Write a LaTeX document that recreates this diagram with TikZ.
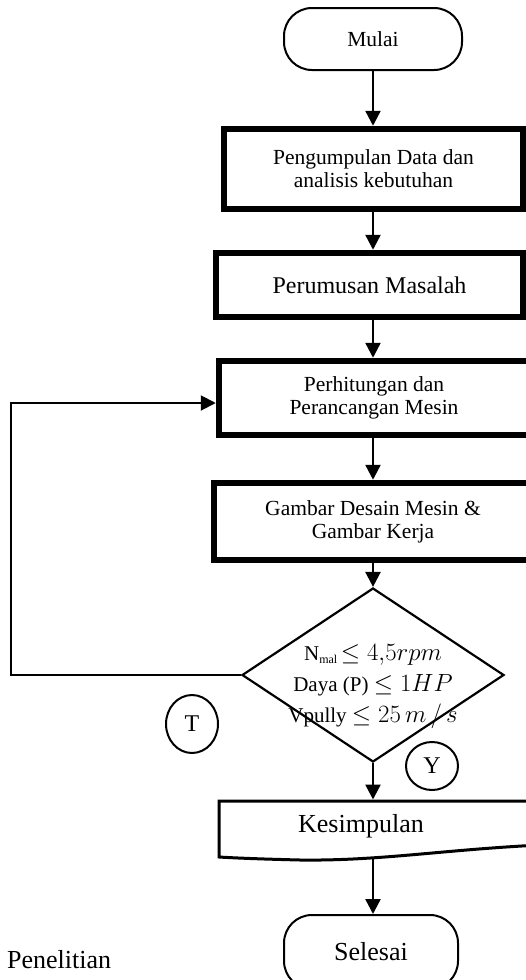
\documentclass[tikz,border=0pt]{standalone}
\usepackage{fontspec}
\setmainfont{Liberation Serif}
\usetikzlibrary{arrows.meta,shapes.geometric}
\newcommand\msz{\fontsize{27}{31}\selectfont}
\begin{document}
\begin{tikzpicture}[x=1pt,y=-1pt,
  conn/.style={line width=2.4pt,-{Triangle[length=15pt,width=15pt]}},
  thickbox/.style={draw,line width=6.5pt,inner sep=0pt,align=center},
  term/.style={draw,line width=2pt,rounded corners=28pt,inner sep=0pt,align=center},
  txt/.style={font=\fontsize{21.5}{23}\selectfont,align=center},
  bigtxt/.style={font=\fontsize{26}{28}\selectfont},
  ring/.style={draw,ellipse,line width=2pt,inner sep=0pt,font=\fontsize{24}{26}\selectfont},
]
\useasboundingbox (0,0) rectangle (526,980);
\clip (0,0) rectangle (526,980);
\coordinate (ax) at (373,0);

\node[term,txt,minimum width=178pt,minimum height=62pt] (mulai) at (373,39) {Mulai};
\node[thickbox,txt,minimum width=299pt,minimum height=80pt] (b1) at (373.5,169) {Pengumpulan Data dan\\analisis kebutuhan};
\node[thickbox,font=\fontsize{24}{26}\selectfont,minimum width=307pt,minimum height=64pt] (b2) at (369.5,285) {Perumusan Masalah};
\node[thickbox,txt,minimum width=310pt,minimum height=74pt] (b3) at (374,398) {Perhitungan dan\\Perancangan Mesin};
\node[thickbox,txt,minimum width=318pt,minimum height=77pt] (b4) at (373,521.5) {Gambar Desain Mesin \&\\Gambar Kerja};

\node[draw,diamond,line width=2.2pt,minimum width=262pt,minimum height=174pt,inner sep=0pt] (dia) at (373,675) {};
\node[align=center,inner sep=0pt,font=\fontsize{21}{31}\selectfont] (cond) at (373,687)
  {N{\fontsize{12}{12}\selectfont\raisebox{-3pt}{mal}}\,{\msz$\leq 4{,}5rpm$}\\
   Daya (P) {\msz$\leq 1HP$}\\
   Vpully {\msz$\leq 25\,m\,/\,s$}};

\node[ring,minimum width=52pt,minimum height=58pt] (T) at (192,724) {T};
\node[ring,minimum width=52pt,minimum height=48pt] (Y) at (432,766) {Y};

% Kesimpulan (document shape)
\draw[line width=3pt] (219,857) -- (219,801) -- (540,801) -- (540,845)
  .. controls (440,850) and (380,861) .. (300,860)
  .. controls (260,859) and (235,858) .. (219,857) -- cycle;
\node[bigtxt] (kes) at (361,826) {Kesimpulan};
\coordinate (kestop) at (373,799.5);
\coordinate (kesbot) at (373,859);

\node[term,bigtxt,minimum width=174pt,minimum height=74pt] (sel) at (371,952) {Selesai};

\node[anchor=base west,inner sep=0pt,font=\fontsize{26}{28}\selectfont] (pen) at (7,968) {Penelitian};

% connectors
\draw[conn] (mulai.south -| ax) -- (b1.north -| ax);
\draw[conn] (b1.south -| ax) -- (b2.north -| ax);
\draw[conn] (b2.south -| ax) -- (b3.north -| ax);
\draw[conn] (b3.south -| ax) -- (b4.north -| ax);
\draw[conn] (b4.south -| ax) -- (dia.north);
\draw[conn] (dia.south) -- (kestop);
\draw[conn] (kesbot) -- (kesbot |- sel.north);
\draw[line width=2pt,-{Triangle[length=15pt,width=15pt]}] (dia.west) -- ++(-230,0) |- ([yshift=-5pt]b3.west);
\end{tikzpicture}
\end{document}
